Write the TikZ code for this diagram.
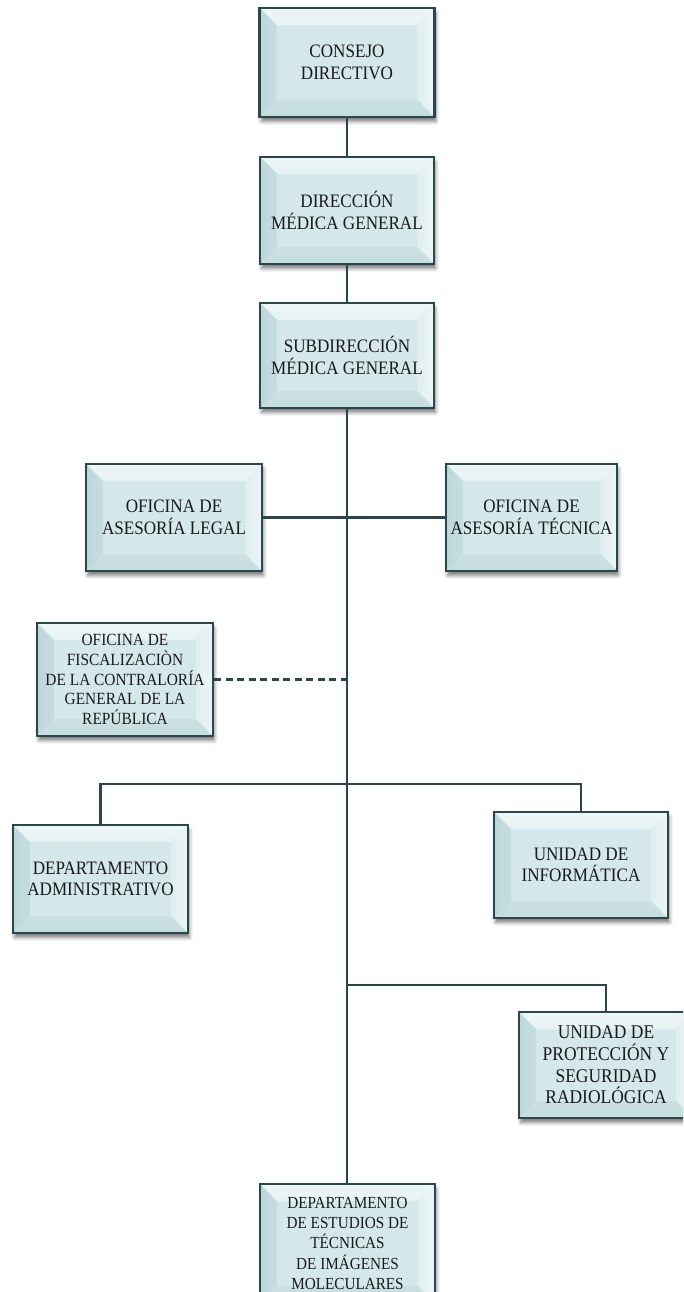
\documentclass[tikz,border=0pt]{standalone}
\usepackage{fontspec}
\setmainfont{Liberation Serif}[FakeStretch=0.9]
\usetikzlibrary{calc,shadows.blur}

\definecolor{edge}{HTML}{2A474B}
\definecolor{face}{HTML}{D4E7EA}
\definecolor{facetop}{HTML}{E6F2F3}
\definecolor{faceleft}{HTML}{BCD6DA}
\definecolor{faceright}{HTML}{E0EEF0}
\definecolor{facebot}{HTML}{C6DDE0}
\definecolor{inkc}{HTML}{1A1A1A}

\newcommand\bevw{17pt}

\tikzset{
  % bevelled box: four shaded facets around a flat face
  orgbase/.style={
    draw=edge, line width=2.4pt, inner sep=0pt, text=inkc,
    font=\fontsize{19}{21.5}\selectfont,
    blur shadow={shadow xshift=1.5pt, shadow yshift=-4.5pt,
                 shadow blur radius=3.5pt, shadow opacity=50},
    path picture={
      \coordinate (q1) at (path picture bounding box.north west);
      \coordinate (q2) at (path picture bounding box.north east);
      \coordinate (q3) at (path picture bounding box.south east);
      \coordinate (q4) at (path picture bounding box.south west);
      \fill[face] (q1) rectangle (q3);
      \shade[top color=facetop!70!white, bottom color=facetop]
        (q1) -- (q2) -- ([shift={(-\bevw,-\bevw)}]q2)
        -- ([shift={(\bevw,-\bevw)}]q1) -- cycle;
      \shade[left color=faceleft, right color=faceleft!60!face]
        (q1) -- ([shift={(\bevw,-\bevw)}]q1)
        -- ([shift={(\bevw,\bevw)}]q4) -- (q4) -- cycle;
      \shade[left color=faceright, right color=faceright!60!white]
        (q2) -- (q3) -- ([shift={(-\bevw,\bevw)}]q3)
        -- ([shift={(-\bevw,-\bevw)}]q2) -- cycle;
      \shade[top color=facebot!70!face, bottom color=facebot]
        (q4) -- ([shift={(\bevw,\bevw)}]q4)
        -- ([shift={(-\bevw,\bevw)}]q3) -- (q3) -- cycle;
    }},
  orgbox/.style={orgbase, align=center},
  link/.style={draw=edge, line width=2.6pt},
  dashlink/.style={draw=edge, line width=2.2pt, dash pattern=on 7pt off 4.5pt}
}

\begin{document}
\begin{tikzpicture}[x=1pt, y=-1pt]
\useasboundingbox (0,0) rectangle (683,1292);
\clip (0,0) rectangle (683,1292);

% top of the hierarchy
\node[orgbox, minimum width=175pt, minimum height=109pt] (consejo) at (347,62.5)
  {CONSEJO\\DIRECTIVO};
\node[orgbox, minimum width=174pt, minimum height=107pt] (direccion) at (347,210.5)
  {DIRECCIÓN\\MÉDICA GENERAL};
\node[orgbox, minimum width=174pt, minimum height=105pt] (sub) at (347,355.5)
  {SUBDIRECCIÓN\\MÉDICA GENERAL};

% advisory offices
\node[orgbox, minimum width=176pt, minimum height=107pt] (legal) at (174,517.5)
  {OFICINA DE\\ASESORÍA LEGAL};
\node[orgbox, minimum width=171pt, minimum height=107pt] (tecnica) at (531.5,517.5)
  {OFICINA DE\\ASESORÍA TÉCNICA};

% external audit office
\node[orgbox, minimum width=176pt, minimum height=113pt,
      font=\fontsize{17.1}{19.7}\selectfont] (fisc) at (125,679.5)
  {OFICINA DE\\FISCALIZACIÒN\\DE LA CONTRALORÍA\\GENERAL DE LA\\REPÚBLICA};

% departments and units
\node[orgbox, minimum width=175pt, minimum height=108pt] (admin) at (100.5,879)
  {DEPARTAMENTO\\ADMINISTRATIVO};
\node[orgbox, minimum width=174pt, minimum height=106pt] (info) at (581,865)
  {UNIDAD DE\\INFORMÁTICA};
\node[orgbox, minimum width=174pt, minimum height=106pt,
      font=\fontsize{19.4}{21.7}\selectfont] (protec) at (606,1065)
  {UNIDAD DE\\PROTECCIÓN Y\\SEGURIDAD\\RADIOLÓGICA};
\node[orgbase, anchor=north, minimum width=175pt, text height=24pt, text depth=95pt,
      font=\fontsize{16.9}{20.3}\selectfont] (estudios) at (347.5,1183)
  {\parbox[t]{175pt}{\centering\fontsize{16.9}{20.3}\selectfont
   DEPARTAMENTO\\DE ESTUDIOS DE\\TÉCNICAS\\DE IMÁGENES\\MOLECULARES}};

% junctions on the main trunk
\coordinate (b1) at (347,784);
\coordinate (b2) at (347,985);

% connectors
\draw[link] (consejo.south) -- (direccion.north);
\draw[link] (direccion.south) -- (sub.north);
\draw[link] (sub.south) -- (sub.south |- estudios.north);
\draw[link] (legal.east) -- (tecnica.west);
\draw[dashlink] (fisc.east) -- (fisc.east -| sub.south);
\draw[link] (admin.north) |- (b1) -| (info.north);
\draw[link] (b2) -| (protec.north);
\end{tikzpicture}
\end{document}
